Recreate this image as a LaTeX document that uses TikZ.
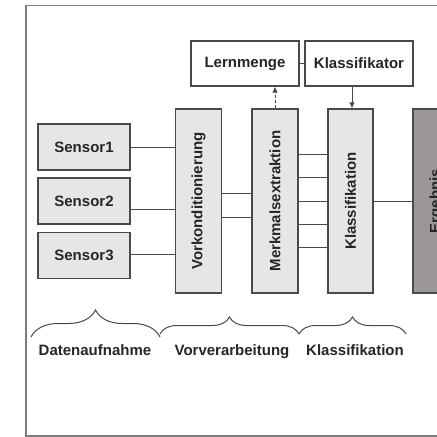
\documentclass[tikz,border=0pt]{standalone}
\usepackage{fontspec}
\setmainfont{Liberation Sans}
\usetikzlibrary{arrows.meta, decorations.pathreplacing}
\definecolor{bdline}{HTML}{4A4A4A}
\definecolor{bdfill}{HTML}{E6E6E6}
\definecolor{bddark}{HTML}{9C9797}
\definecolor{bdframe}{HTML}{7C7C7C}
\definecolor{bdink}{HTML}{262626}

\begin{document}
\begin{tikzpicture}[x=1pt, y=1pt, font=\fontsize{15}{18}\selectfont\bfseries, text=bdink,
  sensorbox/.style={draw=bdline, fill=bdfill, line width=1.1pt, inner sep=0,
                    minimum width=92pt, minimum height=46pt},
  stagebox/.style={draw=bdline, fill=bdfill, line width=1.1pt, inner sep=0,
                   minimum width=46pt, minimum height=184pt,
                   label={[rotate=90, text=bdink]center:#1}},
  topbox/.style={draw=bdline, fill=white, line width=1.1pt, inner sep=0,
                 minimum width=108pt, minimum height=45pt},
  wire/.style={draw=bdline, line width=0.9pt},
  grouping/.style={decorate, draw=bdline, line width=1pt, decoration={brace, amplitude=#1}}]

\useasboundingbox (0,0) rectangle (437,-437);
\clip (0,0) rectangle (437,-437);

% ---- outer frame
\draw[bdframe, line width=1.8pt] (26,-5.5) rectangle (470,-436);

% ============================================== sensors
\node[sensorbox] (s1) at (84,-147) {Sensor1};
\node[sensorbox] (s2) at (84,-201) {Sensor2};
\node[sensorbox] (s3) at (84,-255.5) {Sensor3};

% ============================================== stages
\node[stagebox=Vorkonditionierung] (vork) at (198.5,-201) {};
\node[stagebox=Merkmalsextraktion] (merk) at (275,-201) {};
\node[stagebox=Klassifikation, minimum width=45pt] (klass) at (350.5,-201) {};
\node[stagebox=Ergebnis, minimum width=47pt, fill=bddark] (erg) at (436.5,-201) {};

% ============================================== learning
\node[topbox] (lern) at (245,-63.5) {Lernmenge};
\node[topbox] (klfr) at (359,-63.5) {Klassifikator};

% ---- wire levels
\foreach \yy in {193,209,217,254,154,177,224,247}
  \coordinate (w\yy) at (0,-\yy);
\coordinate (wk) at (352,0);

% ---- wires
\draw[wire] (s1.east) -- (vork.west |- s1.east);
\draw[wire] (s2.east |- w209) -- (vork.west |- w209);
\draw[wire] (s3.east |- w254) -- (vork.west |- w254);
\foreach \yy in {193,217}
  \draw[wire] (vork.east |- w\yy) -- (merk.west |- w\yy);
\foreach \yy in {154,177,224,247}
  \draw[wire] (merk.east |- w\yy) -- (klass.west |- w\yy);
\draw[wire] (merk.east) -- (klass.west);
\draw[wire] (klass.east) -- (erg.west);
\draw[wire] (lern.east) -- (klfr.west);
\draw[wire, dash pattern=on 3pt off 2pt, -{Latex[length=6pt, width=5.5pt]}]
      (merk.north) -- (lern.south -| merk.north);
\draw[wire, -{Latex[length=6pt, width=5.5pt]}]
      (klfr.south -| wk) -- (klass.north -| wk);

% ---- phases
\coordinate (g0) at (31,-337);
\coordinate (g1) at (160,-337);
\coordinate (g2) at (299,-334);
\coordinate (g3) at (406,-334);
\draw[grouping=27pt] (g0) -- (g1);
\draw[grouping=17pt] (g1 |- g2) -- (g2);
\draw[grouping=17pt] (g2) -- (g3);
\node[anchor=base] (pa) at (95,-355) {Datenaufnahme};
\node[anchor=base] (pb) at (232,-355) {Vorverarbeitung};
\node[anchor=base] (pc) at (355,-355) {Klassifikation};

\end{tikzpicture}
\end{document}
